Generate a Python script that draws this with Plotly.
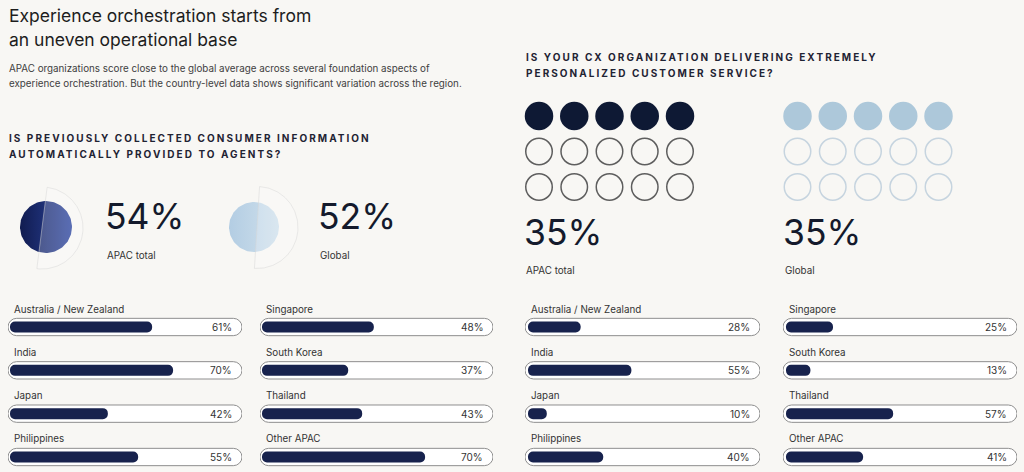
import numpy as np
import plotly.graph_objects as go

W, H = 1024, 472
BG = "#f8f7f4"
NAVY = "#17224d"
FONT = "Inter"

# ---------------- data ----------------
title_lines = ["Experience orchestration starts from", "an uneven operational base"]
subtitle_lines = [
    "APAC organizations score close to the global average across several foundation aspects of",
    "experience orchestration. But the country-level data shows significant variation across the region.",
]
q1_lines = ["IS PREVIOUSLY COLLECTED CONSUMER INFORMATION", "AUTOMATICALLY PROVIDED TO AGENTS?"]
q2_lines = ["IS YOUR CX ORGANIZATION DELIVERING EXTREMELY", "PERSONALIZED CUSTOMER SERVICE?"]

total_labels = ["APAC total", "Global"]
q1_totals = [54, 52]
q2_totals = [35, 35]

col1_countries = ["Australia / New Zealand", "India", "Japan", "Philippines"]
col2_countries = ["Singapore", "South Korea", "Thailand", "Other APAC"]
q1_col1 = [61, 70, 42, 55]
q1_col2 = [48, 37, 43, 70]
q2_col1 = [28, 55, 10, 40]
q2_col2 = [25, 13, 57, 41]


def px(x):
    return x / W


def py(y):
    return 1 - y / H


def sfx(n):
    return "" if n == 1 else str(n)


annotations = []
spaced_idx = []


def ann(text, x, y, size, color="#2a2a2a", weight=400, xanchor="left", yanchor="middle",
        xref="paper", yref="paper", xshift=0, yshift=0, spaced=False):
    if spaced:
        spaced_idx.append(len(annotations))
    annotations.append(dict(
        text=text, x=x, y=y, xref=xref, yref=yref, xanchor=xanchor, yanchor=yanchor,
        xshift=xshift, yshift=yshift, showarrow=False, align="left",
        font=dict(family=FONT, size=size, color=color, weight=weight)))


fig = go.Figure()
layout_axes = {}

# ---------------- headings ----------------
for i, t in enumerate(title_lines):
    ann(t, px(7), py(15 + 24 * i), 17.5, "#1d1d1d")
for i, t in enumerate(subtitle_lines):
    ann(t, px(7), py(68 + 16 * i), 9.8, "#404040")
for i, t in enumerate(q1_lines):
    ann(t, px(7), py(138 + 16 * i), 10, "#1f2333", 700, spaced=True)
for i, t in enumerate(q2_lines):
    ann(t, px(524), py(57 + 16 * i), 10, "#1f2333", 700, spaced=True)

# ---------------- bar panels ----------------
ROW_PX = 43.33
TOP_PX = 327 - 0.5 * ROW_PX
y_bottom_val = 3 + (H - 457) / ROW_PX
panels = [
    # (left px, right px, px per %, inset px, countries, values)
    (8, 242, 2.33, 2, col1_countries, q1_col1),
    (260, 493, 2.33, 2, col2_countries, q1_col2),
    (525, 760, 1.88, 3, col1_countries, q2_col1),
    (783, 1017, 1.88, 3, col2_countries, q2_col2),
]
for n, (l, r, scale, inset, names, vals) in enumerate(panels, start=1):
    s = sfx(n)
    rmin = -inset / scale
    rmax = rmin + (r - l) / scale
    layout_axes[f"xaxis{s}"] = dict(domain=[px(l), px(r)], range=[rmin, rmax], visible=False,
                                    fixedrange=True, anchor=f"y{s}")
    layout_axes[f"yaxis{s}"] = dict(domain=[0, py(TOP_PX)], range=[y_bottom_val, -0.5], visible=False,
                                    fixedrange=True, anchor=f"x{s}")
    rows = list(range(len(vals)))
    fig.add_trace(go.Bar(
        x=[rmax - rmin] * len(vals), base=[rmin] * len(vals), y=rows, orientation="h",
        width=0.40, marker=dict(color="white", line=dict(color="#8e8e8e", width=1), cornerradius=9),
        xaxis=f"x{s}", yaxis=f"y{s}", hoverinfo="skip"))
    fig.add_trace(go.Bar(
        x=vals, base=[0] * len(vals), y=rows, orientation="h",
        width=0.255, marker=dict(color=NAVY, line=dict(width=0), cornerradius=6),
        xaxis=f"x{s}", yaxis=f"y{s}", hovertemplate="%{x}%<extra></extra>"))
    for i, (nm, v) in enumerate(zip(names, vals)):
        ann(nm, 0, i, 9.8, "#333333", xref=f"x{s} domain", yref=f"y{s}", xshift=4, yshift=18)
        ann(f"{v}%", 1, i, 10, "#333333", xanchor="right", xref=f"x{s} domain", yref=f"y{s}", xshift=-8)

# ---------------- dot grids (Q2 totals) ----------------
dot_grids = [
    (539, "#0e1934", "#5e5e5e", q2_totals[0]),
    (797.5, "#adc8da", "#c6d4df", q2_totals[1]),
]
DX, DY = 35.25, 35.5
for k, (x0, fillc, linec, v) in enumerate(dot_grids):
    n = 5 + k
    layout_axes[f"xaxis{n}"] = dict(domain=[px(x0 - DX / 2), px(x0 + 4 * DX + DX / 2)], range=[-0.5, 4.5],
                                    visible=False, fixedrange=True, anchor=f"y{n}")
    layout_axes[f"yaxis{n}"] = dict(domain=[py(116 + 2 * DY + DY / 2), py(116 - DY / 2)], range=[2.5, -0.5],
                                    visible=False, fixedrange=True, anchor=f"x{n}")
    nfill = int(round(v / 100 * 15))
    idx = np.arange(15)
    cols, rws = idx % 5, idx // 5
    fig.add_trace(go.Scatter(x=cols[:nfill], y=rws[:nfill], mode="markers",
                             marker=dict(size=28.5, color=fillc, line=dict(width=0)),
                             xaxis=f"x{n}", yaxis=f"y{n}", hoverinfo="skip"))
    fig.add_trace(go.Scatter(x=cols[nfill:], y=rws[nfill:], mode="markers",
                             marker=dict(size=26.5, color="rgba(0,0,0,0)", line=dict(width=1.5, color=linec)),
                             xaxis=f"x{n}", yaxis=f"y{n}", hoverinfo="skip"))

# ---------------- half-covered discs (Q1 totals) ----------------
layout_axes["xaxis7"] = dict(domain=[0, 1], range=[0, W], visible=False, fixedrange=True, anchor="y7")
layout_axes["yaxis7"] = dict(domain=[0, 1], range=[H, 0], visible=False, fixedrange=True, anchor="x7")
discs = [
    # circle centre, radius, half-disc centre, colours
    ((46, 227), 26, (42, 228), ["#111c50", "#2c45a0"], q1_totals[0]),
    ((254, 227), 25, (257, 227.5), ["#b3cde3", "#cfe0ec"], q1_totals[1]),
]
for (cx, cy), r, (hx, hy), cs, v in discs:
    phi = np.radians(np.linspace(0, 360, 121))
    fig.add_trace(go.Scatter(x=cx + r * np.sin(phi), y=cy - r * np.cos(phi), mode="lines", fill="toself",
                             line=dict(width=0), fillcolor=cs[0],
                             fillgradient=dict(type="horizontal", colorscale=[[0, cs[0]], [1, cs[1]]]),
                             xaxis="x7", yaxis="y7", hoverinfo="skip"))
    t = (v - 50) * 1.8
    phi = np.radians(np.linspace(t, t + 180, 91))
    hr = 41
    xs = np.append(hx + hr * np.sin(phi), hx + hr * np.sin(phi[0]))
    ys = np.append(hy - hr * np.cos(phi), hy - hr * np.cos(phi[0]))
    fig.add_trace(go.Scatter(x=xs, y=ys, mode="lines", fill="toself",
                             fillcolor="rgba(255,255,255,0.22)",
                             line=dict(width=1, color="rgba(215,215,215,0.5)"),
                             xaxis="x7", yaxis="y7", hoverinfo="skip"))

# ---------------- big numbers ----------------
big_pos_q1 = [(103, 216, 255), (316, 216, 255)]
for (x, y, ly), v, lab in zip(big_pos_q1, q1_totals, total_labels):
    ann(f"{v}%", px(x), py(y), 35.5, "#141a2c")
    ann(lab, px(x + 2), py(ly), 9.8, "#333333")
big_pos_q2 = [(522, 232, 270), (781, 232, 270)]
for (x, y, ly), v, lab in zip(big_pos_q2, q2_totals, total_labels):
    ann(f"{v}%", px(x), py(y), 35.5, "#141a2c")
    ann(lab, px(x + 2), py(ly), 9.8, "#333333")

fig.update_layout(
    width=W, height=H, margin=dict(l=0, r=0, t=0, b=0),
    paper_bgcolor=BG, plot_bgcolor="rgba(0,0,0,0)", showlegend=False,
    barmode="overlay", annotations=annotations, **layout_axes,
)

post = """
var gd = document.getElementById('{plot_id}');
function sp(){ IDX.forEach(function(i){
  var t = gd.querySelector('g.annotation[data-index="'+i+'"] text');
  if (t) { t.style.letterSpacing = '2.05px'; }
}); }
sp();
gd.on('plotly_afterplot', sp);
""".replace("IDX", str(spaced_idx))

fig.write_html("out.html", post_script=post)
